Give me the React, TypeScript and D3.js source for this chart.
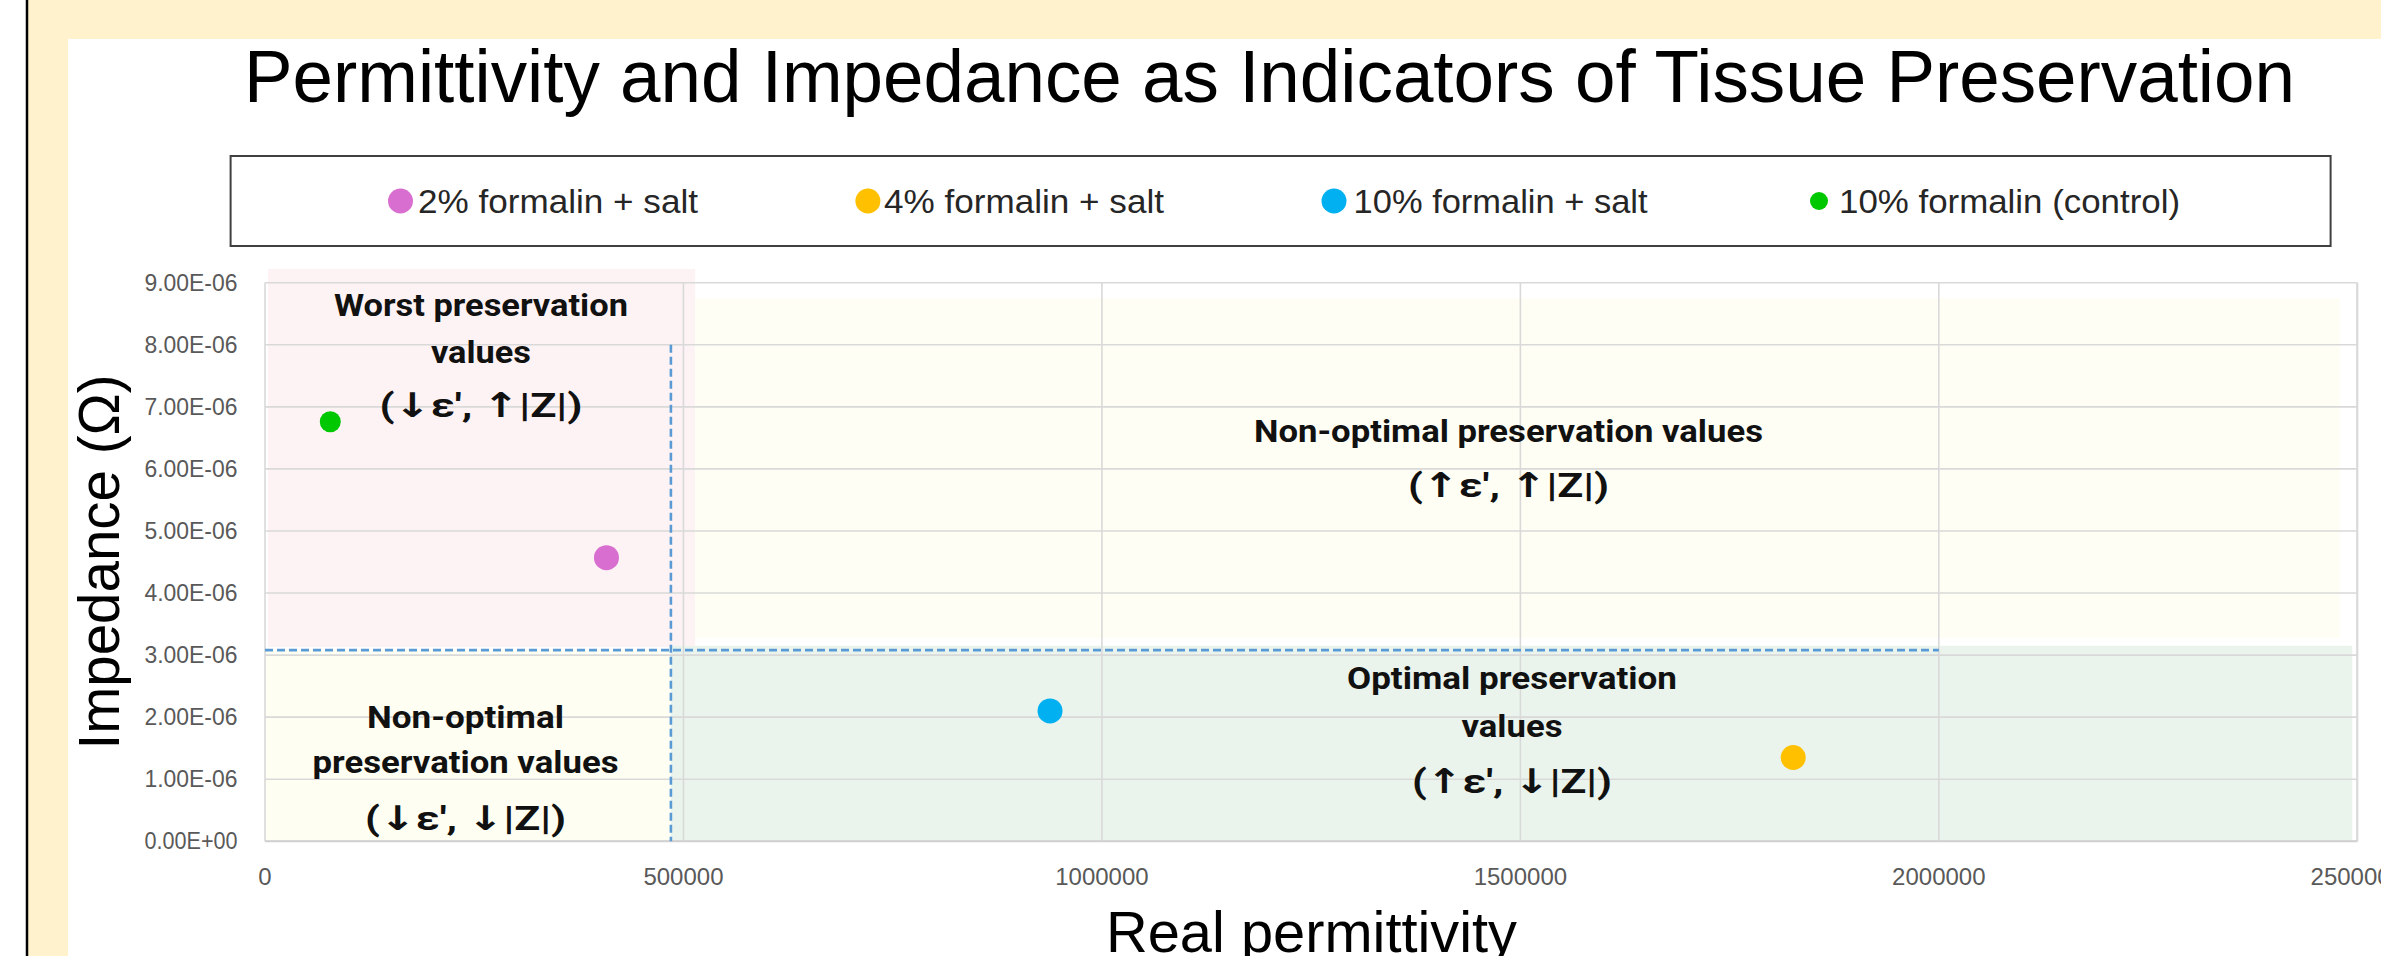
import React from 'react';
import * as d3 from 'd3';

// ---------- data ----------
const seriesNames = ['2% formalin + salt', '4% formalin + salt', '10% formalin + salt', '10% formalin (control)'];
const seriesColors = ['#D86FD0', '#FFC000', '#00B0F0', '#00C800'];
const permittivity = [408000, 1826000, 938000, 78000];
const impedance = [4.57e-6, 1.35e-6, 2.1e-6, 6.76e-6];

const xTicks = [0, 500000, 1000000, 1500000, 2000000, 2500000];
const yTicks = [0, 1e-6, 2e-6, 3e-6, 4e-6, 5e-6, 6e-6, 7e-6, 8e-6, 9e-6];

// shaded zones (data units)
const zoneX0 = [3600, 514000, 0, 485000];
const zoneX1 = [514000, 2479000, 485000, 2494000];
const zoneY0 = [3.13e-6, 3.27e-6, 0, 0];
const zoneY1 = [9.22e-6, 8.75e-6, 3.08e-6, 3.15e-6];
const zoneColors = ['#FEF3F4', '#FFFEF4', '#FEFEF3', '#EAF4EC'];

// threshold lines (data units)
const thresholdX = 485000;
const thresholdXTop = 8e-6;
const thresholdY = 3.08e-6;
const thresholdYRight = 2000000;

// annotations
const annLines = [
  ['Worst preservation', 'values', "(↓ε', ↑|Z|)"],
  ['Non-optimal preservation values', "(↑ε', ↑|Z|)"],
  ['Non-optimal', 'preservation values', "(↓ε', ↓|Z|)"],
  ['Optimal preservation', 'values', "(↑ε', ↓|Z|)"],
];
const annX = [258000, 1485800, 239600, 1490000];
const annY = [8.463e-6, 6.438e-6, 1.82e-6, 2.449e-6];

// ---------- layout ----------
const W = 2381;
const H = 956;
const PL = 265, PR = 2357.3, PT = 282.7, PB = 841.3;
const annDy = [
  [0, 46.7, 100.7],
  [0, 55.3],
  [0, 45, 101.7],
  [0, 47.4, 103.4],
];
const annW = [
  [294, 100, 203],
  [509, 201],
  [197, 306, 201],
  [330, 101, 200],
];
const legendCx = [400.5, 867.9, 1334, 1819];
const legendR = [12.5, 12.5, 12.5, 9];
const legendTx = [418, 884, 1353.6, 1839];
const legendTw = [280, 280, 294, 341];
const markerR = [12.5, 12.5, 12.5, 10.5];

function fmtE(v: number): string {
  const [m, e] = v.toExponential(2).split('e');
  const n = parseInt(e, 10);
  const sign = n < 0 ? '-' : '+';
  return `${m}E${sign}${String(Math.abs(n)).padStart(2, '0')}`;
}

export default function App() {
  const x = d3.scaleLinear().domain([0, 2500000]).range([PL, PR]);
  const y = d3.scaleLinear().domain([0, 9e-6]).range([PB, PT]);
  const sans = '"Liberation Sans", Arial, sans-serif';
  const bold = 'Roboto, "DejaVu Sans", sans-serif';

  return (
    <div style={{ position: 'absolute', left: 0, top: 0 }}>
      <svg width={W} height={H} style={{ display: 'block' }}>
        <rect x={0} y={0} width={W} height={H} fill="#ffffff" />
        <rect x={28} y={0} width={W - 28} height={H} fill="#FFF2CC" />
        <rect x={68} y={39} width={W - 68} height={H - 39} fill="#ffffff" />
        <line x1={27} x2={27} y1={0} y2={H} stroke="#000" strokeWidth={2.5} />

        {/* title */}
        <text
          x={1269.5}
          y={102}
          textAnchor="middle"
          fontFamily={sans}
          fontSize={75}
          textLength={2051}
          lengthAdjust="spacingAndGlyphs"
          fill="#000"
        >
          Permittivity and Impedance as Indicators of Tissue Preservation
        </text>

        {/* legend */}
        <rect x={230.6} y={156} width={2100} height={90} fill="#fff" stroke="#404040" strokeWidth={2} />
        {seriesNames.map((s, i) => (
          <g key={s}>
            <circle cx={legendCx[i]} cy={201} r={legendR[i]} fill={seriesColors[i]} />
            <text
              x={legendTx[i]}
              y={213}
              fontFamily={sans}
              fontSize={34}
              textLength={legendTw[i]}
              lengthAdjust="spacingAndGlyphs"
              fill="#262626"
            >
              {s}
            </text>
          </g>
        ))}

        {/* zones */}
        {zoneColors.map((c, i) => (
          <rect
            key={i}
            x={x(zoneX0[i])}
            y={y(zoneY1[i])}
            width={x(zoneX1[i]) - x(zoneX0[i])}
            height={y(zoneY0[i]) - y(zoneY1[i])}
            fill={c}
          />
        ))}

        {/* gridlines */}
        {yTicks.map((t) => (
          <line key={'gy' + t} x1={PL} x2={PR} y1={y(t)} y2={y(t)} stroke="#D9D9D9" strokeWidth={1.6} />
        ))}
        {xTicks.map((t) => (
          <line key={'gx' + t} x1={x(t)} x2={x(t)} y1={PT} y2={PB} stroke="#D9D9D9" strokeWidth={1.6} />
        ))}
        <line x1={PL} x2={PR} y1={PB} y2={PB} stroke="#D0D0D0" strokeWidth={2} />
        <line x1={PR} x2={PR} y1={PT} y2={PB} stroke="#D9D9D9" strokeWidth={2} />

        {/* threshold lines */}
        <line
          x1={x(thresholdX)}
          x2={x(thresholdX)}
          y1={y(thresholdXTop)}
          y2={PB}
          stroke="#5B9BD5"
          strokeWidth={2.6}
          strokeDasharray="8 4"
        />
        <line
          x1={PL}
          x2={x(thresholdYRight)}
          y1={y(thresholdY)}
          y2={y(thresholdY)}
          stroke="#5B9BD5"
          strokeWidth={2.6}
          strokeDasharray="8 4"
        />

        {/* points */}
        {permittivity.map((p, i) => (
          <circle key={'p' + i} cx={x(p)} cy={y(impedance[i])} r={markerR[i]} fill={seriesColors[i]} />
        ))}

        {/* annotations */}
        {annLines.map((lines, i) => (
          <g key={'a' + i}>
            {lines.map((l, j) => (
              <text
                key={j}
                x={x(annX[i])}
                y={y(annY[i]) + annDy[i][j]}
                textAnchor="middle"
                fontFamily={bold}
                fontWeight={700}
                fontSize={j === lines.length - 1 ? 34 : 32}
                textLength={annW[i][j]}
                lengthAdjust="spacingAndGlyphs"
                fill="#111"
              >
                {l}
              </text>
            ))}
          </g>
        ))}

        {/* tick labels */}
        {yTicks.map((t) => (
          <text
            key={'ty' + t}
            x={237.5}
            y={y(t) + 8}
            textAnchor="end"
            fontFamily={sans}
            fontSize={23}
            textLength={93}
            lengthAdjust="spacingAndGlyphs"
            fill="#595959"
          >
            {fmtE(t)}
          </text>
        ))}
        {xTicks.map((t) => (
          <text
            key={'tx' + t}
            x={x(t)}
            y={885}
            textAnchor="middle"
            fontFamily={sans}
            fontSize={24}
            fill="#595959"
          >
            {String(t)}
          </text>
        ))}

        {/* axis titles */}
        <text
          x={1311.5}
          y={952}
          textAnchor="middle"
          fontFamily={sans}
          fontSize={58}
          textLength={411}
          lengthAdjust="spacingAndGlyphs"
          fill="#000"
        >
          Real permittivity
        </text>
        <text
          transform={`translate(118.5, ${(PT + PB) / 2}) rotate(-90)`}
          textAnchor="middle"
          fontFamily={sans}
          fontSize={58}
          textLength={375}
          lengthAdjust="spacingAndGlyphs"
          fill="#000"
        >
          Impedance (Ω)
        </text>
      </svg>
    </div>
  );
}
